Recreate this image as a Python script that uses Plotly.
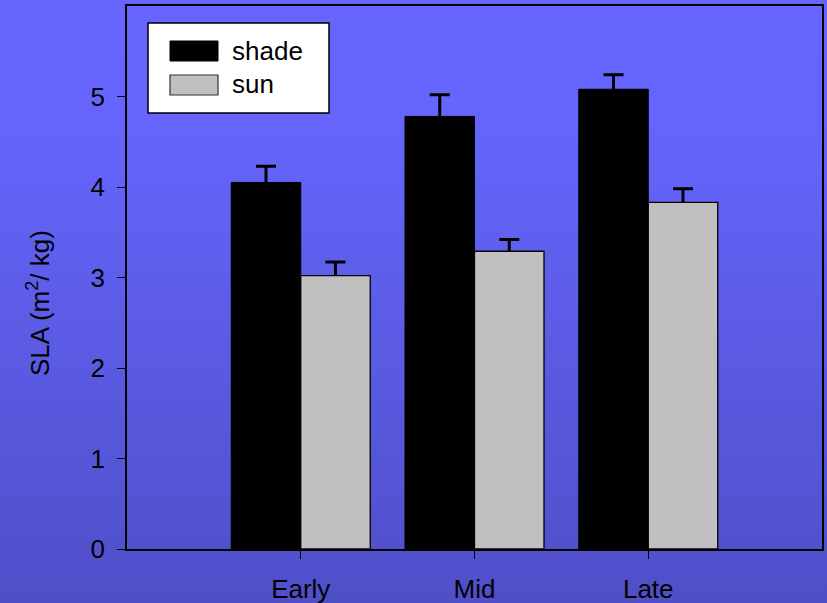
import base64
import plotly.graph_objects as go

# Specific leaf area by season and light environment
stages = ["Early", "Mid", "Late"]
series_names = ["shade", "sun"]
shade_sla = [4.05, 4.78, 5.08]
shade_err = [0.18, 0.24, 0.16]
sun_sla = [3.02, 3.29, 3.83]
sun_err = [0.15, 0.13, 0.15]
y_ticks = [0, 1, 2, 3, 4, 5]
y_title = "SLA (m<sup>2</sup>/ kg)"

FONT = "Liberation Sans, Arial, sans-serif"
W, H = 827, 603
ML, MR, MT, MB = 127, 5, 6, 54

series = [
    (series_names[0], shade_sla, shade_err, "#000000", 1.0),
    (series_names[1], sun_sla, sun_err, "#c0c0c0", 1.3),
]

fig = go.Figure()
for name, vals, errs, color, lw in series:
    # bar with the error stem (no caps)
    fig.add_trace(go.Bar(
        name=name, x=stages, y=vals, offsetgroup=name,
        marker=dict(color=color, line=dict(color="#000000", width=lw)),
        error_y=dict(type="data", array=errs, arrayminus=[0] * len(errs),
                     symmetric=False, color="#000000", thickness=3, width=0),
    ))
for name, vals, errs, color, lw in series:
    # single cap at the top of each error bar
    tops = [v + e for v, e in zip(vals, errs)]
    fig.add_trace(go.Scatter(
        name=name, x=stages, y=tops, offsetgroup=name, mode="markers",
        marker=dict(size=1, opacity=0), hoverinfo="skip",
        error_y=dict(type="data", array=[0] * len(tops), color="#000000",
                     thickness=3, width=10),
    ))

# Vertical blue gradient for the page background
svg = (
    '<svg xmlns="http://www.w3.org/2000/svg" width="10" height="100" preserveAspectRatio="none">'
    '<defs><linearGradient id="g" x1="0" y1="0" x2="0" y2="1">'
    '<stop offset="0" stop-color="#6666ff"/>'
    '<stop offset="0.2" stop-color="#6565fd"/>'
    '<stop offset="1" stop-color="#4f4fc8"/>'
    '</linearGradient></defs>'
    '<rect width="10" height="100" fill="url(#g)"/></svg>'
)
bg_src = "data:image/svg+xml;base64," + base64.b64encode(svg.encode()).decode()

pw, ph = W - ML - MR, H - MT - MB


def px_x(p):
    return (p - ML) / pw


def px_y(p):
    return (H - MB - p) / ph


# Legend box with large swatches
shapes = [
    dict(type="rect", xref="paper", yref="paper",
         x0=px_x(148), x1=px_x(329), y0=px_y(113), y1=px_y(23),
         fillcolor="white", line=dict(color="black", width=1.5), layer="above"),
    dict(type="rect", xref="paper", yref="paper",
         x0=px_x(170), x1=px_x(218), y0=px_y(61), y1=px_y(41),
         fillcolor="#000000", line=dict(color="#000000", width=1), layer="above"),
    dict(type="rect", xref="paper", yref="paper",
         x0=px_x(170), x1=px_x(218), y0=px_y(95), y1=px_y(75),
         fillcolor="#c0c0c0", line=dict(color="#333333", width=1.2), layer="above"),
]
annotations = [
    dict(text=series_names[0], xref="paper", yref="paper", x=px_x(230), y=px_y(51),
         xanchor="left", yanchor="middle", showarrow=False,
         font=dict(family=FONT, size=26, color="black")),
    dict(text=series_names[1], xref="paper", yref="paper", x=px_x(230), y=px_y(84),
         xanchor="left", yanchor="middle", showarrow=False,
         font=dict(family=FONT, size=26, color="black")),
    dict(text=y_title, xref="paper", yref="paper", x=px_x(38), y=px_y(303),
         xanchor="center", yanchor="middle", textangle=-90, showarrow=False,
         font=dict(family=FONT, size=26, color="black")),
]

fig.update_layout(
    width=W, height=H,
    margin=dict(l=ML, r=MR, t=MT, b=MB, pad=0),
    paper_bgcolor="#5c5ce6",
    plot_bgcolor="rgba(0,0,0,0)",
    barmode="group", bargap=0.2, bargroupgap=0,
    scattermode="group", scattergap=0.2,
    showlegend=False,
    font=dict(family=FONT, size=26, color="black"),
    images=[dict(source=bg_src, xref="paper", yref="paper",
                 x=-ML / pw, y=1 + MT / ph, sizex=W / pw, sizey=H / ph,
                 xanchor="left", yanchor="top", sizing="stretch", layer="below")],
    shapes=shapes,
    annotations=annotations,
)
fig.update_xaxes(
    type="category", range=[-1, 3], showgrid=False, zeroline=False,
    showline=True, linecolor="black", linewidth=1.5, mirror=True,
    ticks="outside", ticklen=8, tickwidth=1, tickcolor="black",
    ticklabelstandoff=8, tickfont=dict(size=26), automargin=False,
)
fig.update_yaxes(
    range=[0, 6], tickvals=y_ticks, showgrid=False, zeroline=False,
    showline=True, linecolor="black", linewidth=1.5, mirror=True,
    ticks="outside", ticklen=8, tickwidth=1, tickcolor="black",
    ticklabelstandoff=7, tickfont=dict(size=26), automargin=False,
)

fig.write_html("out.html")
